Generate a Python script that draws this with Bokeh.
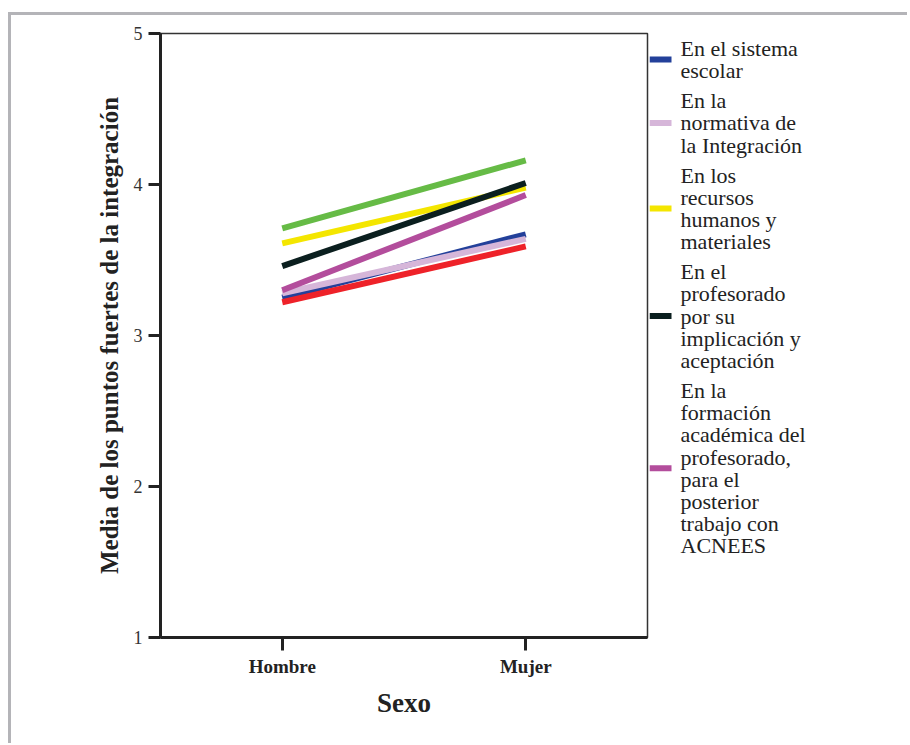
from bokeh.plotting import figure
from bokeh.layouts import row
from bokeh.models import FactorRange, Range1d, FixedTicker
from bokeh.core.properties import value
from bokeh.embed import file_html
from bokeh.resources import INLINE

# ---- data ----
sexo = ["Hombre", "Mujer"]
sistema_escolar = [3.25, 3.67]
normativa = [3.28, 3.64]
recursos = [3.61, 3.98]
profesorado = [3.46, 4.01]
formacion = [3.30, 3.93]
serie_verde = [3.71, 4.16]
serie_roja = [3.22, 3.59]
y_ticks = [1, 2, 3, 4, 5]

legend_labels = [
    "En el sistema\nescolar",
    "En la\nnormativa de\nla Integración",
    "En los\nrecursos\nhumanos y\nmateriales",
    "En el\nprofesorado\npor su\nimplicación y\naceptación",
    "En la\nformación\nacadémica del\nprofesorado,\npara el\nposterior\ntrabajo con\nACNEES",
]
legend_colors = ["#23409a", "#d6b6d9", "#f4e600", "#0b1f1f", "#b34d9c"]

SERIF = "Liberation Serif"
H = 728
TOP, BOTTOM = 18, 106

p = figure(
    width=638, height=H,
    x_range=FactorRange(factors=sexo, range_padding=0),
    y_range=Range1d(1, 5),
    output_backend="svg", toolbar_location=None,
    min_border_left=149, min_border_top=TOP, min_border_right=2, min_border_bottom=BOTTOM,
)

p.xgrid.visible = False
p.ygrid.visible = False
p.outline_line_color = "#333333"
p.outline_line_width = 1.5

# axes
p.yaxis.ticker = FixedTicker(ticks=y_ticks)
p.yaxis.minor_tick_line_color = None
p.yaxis.axis_line_width = 3
p.yaxis.axis_line_color = "#222222"
p.yaxis.major_tick_line_width = 3
p.yaxis.major_tick_line_color = "#222222"
p.yaxis.major_tick_out = 12
p.yaxis.major_tick_in = 0
p.yaxis.major_label_text_font = SERIF
p.yaxis.major_label_text_font_size = "18px"
p.yaxis.major_label_text_color = "#333333"
p.yaxis.major_label_standoff = 6
p.yaxis.axis_label = "Media de los puntos fuertes de la integración"
p.yaxis.axis_label_text_font = SERIF
p.yaxis.axis_label_text_font_style = "bold"
p.yaxis.axis_label_text_font_size = "25px"
p.yaxis.axis_label_text_color = "#222222"
p.yaxis.axis_label_standoff = 8

p.xaxis.axis_line_width = 3
p.xaxis.axis_line_color = "#222222"
p.xaxis.major_tick_line_width = 3
p.xaxis.major_tick_line_color = "#222222"
p.xaxis.major_tick_out = 13
p.xaxis.major_tick_in = 0
p.xaxis.major_label_text_font = SERIF
p.xaxis.major_label_text_font_style = "bold"
p.xaxis.major_label_text_font_size = "19px"
p.xaxis.major_label_text_color = "#222222"
p.xaxis.major_label_standoff = 5
p.xaxis.axis_label = "Sexo"
p.xaxis.axis_label_text_font = SERIF
p.xaxis.axis_label_text_font_style = "bold"
p.xaxis.axis_label_text_font_size = "27px"
p.xaxis.axis_label_text_color = "#222222"
p.xaxis.axis_label_standoff = 8

LW = 6
series = [sistema_escolar, normativa, recursos, profesorado, formacion]
for vals, col in zip(series, legend_colors):
    p.line(sexo, vals, line_width=LW, line_color=col)
p.line(sexo, serie_verde, line_width=LW, line_color="#66bb46")
p.line(sexo, serie_roja, line_width=LW, line_color="#ee2229")

# ---- legend panel (canvas pixel coordinates, y downward) ----
LW2 = 258
p2 = figure(
    width=LW2, height=H,
    x_range=Range1d(0, LW2), y_range=Range1d(H - BOTTOM, TOP),
    x_axis_type=None, y_axis_type=None,
    output_backend="svg", toolbar_location=None,
    min_border_left=0, min_border_right=0, min_border_top=TOP, min_border_bottom=BOTTOM,
)
p2.outline_line_color = None
p2.xgrid.visible = False
p2.ygrid.visible = False

LINE_H = 22.2
GAP = 7.8
y = 33.0
tx, ty, gy = [], [], []
for lab in legend_labels:
    lines = lab.split("\n")
    ys = [y + k * LINE_H for k in range(len(lines))]
    tx += lines
    ty += ys
    gy.append(sum(ys) / len(ys))
    y = ys[-1] + LINE_H + GAP

p2.segment(x0=0, x1=22, y0=gy, y1=gy, line_color=legend_colors, line_width=6)
p2.text(x=31, y=ty, text=tx, text_font=value(SERIF), text_font_size="22px",
        text_color="#222222", text_baseline="middle", text_align="left")

lay = row(p, p2)
lay.styles = {"margin-top": "12px", "margin-left": "8px",
              "border-top": "3px solid #b4b4b8", "border-left": "3px solid #b4b4b8"}

open("out.html", "w").write(file_html(lay, INLINE))
